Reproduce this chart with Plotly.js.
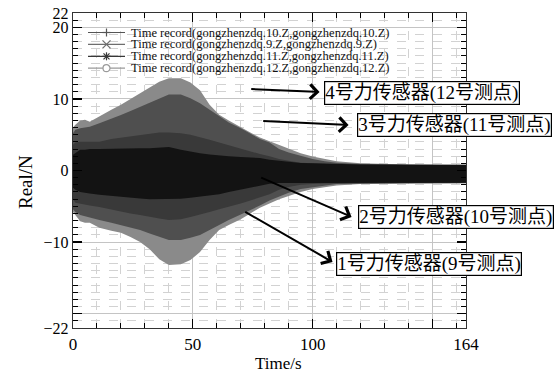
<!DOCTYPE html>
<html><head><meta charset="utf-8">
<script src="https://cdn.plot.ly/plotly-3.0.1.min.js"></script>
<style>html,body{margin:0;padding:0;background:#fff;}#chart{width:557px;height:374px;}</style>
</head><body><div id="chart"></div>
<script>
// Envelope of each time record (upper / lower amplitude, N)
const time = [0, 1, 3, 5, 7, 11, 16, 20, 24, 28, 32, 36, 40, 45, 49, 53, 57, 61, 65, 70, 74, 78, 82, 86, 90, 95, 100, 105, 110, 120, 140, 164];

const s12Upper = [6.0, 6.4, 7.0, 7.1, 6.8, 7.6, 8.5, 9.2, 10.0, 10.8, 11.6, 12.4, 12.9, 12.9, 12.3, 11.2, 9.2, 7.8, 7.0, 6.0, 5.3, 4.6, 4.1, 3.6, 3.1, 2.4, 1.95, 1.6, 1.3, 1.0, 0.85, 0.8];
const s12Lower = [-5.8, -6.2, -7.1, -7.3, -7.3, -8.0, -8.4, -8.7, -9.3, -10.0, -11.0, -12.4, -13.2, -13.1, -12.5, -11.4, -9.7, -8.3, -7.6, -6.8, -6.0, -5.2, -4.6, -4.0, -3.5, -3.0, -2.6, -2.3, -2.1, -1.9, -1.8, -1.8];

const s11Upper = [5.2, 5.7, 5.9, 6.0, 6.1, 6.6, 7.2, 7.75, 8.3, 8.9, 9.5, 10.1, 10.6, 10.6, 10.1, 9.4, 8.5, 7.5, 6.7, 5.9, 5.2, 4.4, 3.9, 3.0, 2.5, 2.0, 1.6, 1.3, 1.1, 0.9, 0.8, 0.75];
const s11Lower = [-5.4, -5.8, -6.2, -6.4, -6.5, -6.9, -7.3, -7.6, -8.0, -8.3, -8.8, -9.3, -9.7, -9.7, -9.4, -9.0, -8.3, -7.6, -6.9, -6.1, -5.5, -4.9, -4.2, -3.6, -3.1, -2.6, -2.3, -2.1, -1.9, -1.8, -1.75, -1.75];

const s10Upper = [3.6, 3.9, 4.0, 4.0, 4.0, 4.0, 4.4, 4.6, 4.8, 5.0, 5.2, 5.3, 5.3, 5.2, 5.0, 4.7, 4.3, 3.9, 3.5, 3.0, 2.6, 2.3, 2.0, 1.6, 1.35, 1.1, 1.0, 0.9, 0.85, 0.8, 0.8, 0.75];
const s10Lower = [-4.0, -4.5, -4.7, -4.8, -4.9, -5.1, -5.5, -5.7, -6.0, -6.2, -6.4, -6.7, -6.9, -6.8, -6.5, -6.2, -5.8, -5.4, -5.0, -4.6, -4.2, -3.8, -3.3, -2.7, -2.3, -2.0, -1.9, -1.8, -1.75, -1.75, -1.7, -1.7];

const s9Upper = [2.2, 2.4, 2.9, 2.9, 3.0, 3.0, 3.05, 3.1, 3.1, 3.1, 3.1, 3.25, 3.3, 2.9, 2.6, 2.4, 2.25, 2.1, 2.0, 1.9, 1.8, 1.75, 1.5, 1.35, 1.2, 1.05, 1.0, 0.95, 0.9, 0.85, 0.8, 0.8];
const s9Lower = [-2.4, -2.7, -3.0, -3.1, -3.2, -3.4, -3.55, -3.7, -3.8, -3.9, -4.0, -4.0, -4.0, -3.95, -3.8, -3.7, -3.5, -3.3, -3.0, -2.7, -2.4, -2.1, -1.85, -1.75, -1.7, -1.7, -1.7, -1.7, -1.7, -1.7, -1.7, -1.7];

const legendLabels = [
  'Time record(gongzhenzdq.10.Z,gongzhenzdq.10.Z)',
  'Time record(gongzhenzdq.9.Z,gongzhenzdq.9.Z)',
  'Time record(gongzhenzdq.11.Z,gongzhenzdq.11.Z)',
  'Time record(gongzhenzdq.12.Z,gongzhenzdq.12.Z)'
];
const legendColors = ['#555555', '#6e6e6e', '#383838', '#9a9a9a'];
const legendSymbols = ['plus', 'x', 'asterisk', 'circle'];

const sensorLabels = ['4号力传感器(12号测点)', '3号力传感器(11号测点)', '2号力传感器(10号测点)', '1号力传感器(9号测点)'];
const sensorLabelPos = [[145.8, 10.8], [159, 6.35], [159.8, -6.5], [148.75, -13.06]];
const arrowTail = [[73.75, 11.38], [78.75, 6.91], [77.9, -0.91], [71.25, -5.66]];
const arrowHead = [[102.9, 10.96], [115, 6.35], [116.25, -6.49], [108.3, -12.78]];

const xTickVals = [0, 50, 100, 150, 164];
const xTickText = ['0', '50', '100', '', '164'];
const yTickVals = [-22, -20, -10, 0, 10, 20, 22];
const yTickText = ['\u221222', '', '\u221210', '0', '10', '20', '22'];

const serif = 'Liberation Serif, Times New Roman, serif';
const cjk = 'Liberation Serif, Noto Sans CJK SC, serif';

// plot area in pixels
const L = 73, R = 466, T = 13, B = 328;
const px = (x) => (x - L) / (R - L);
const py = (y) => (B - y) / (B - T);

function band(upper, lower, color, name) {
  return {
    type: 'scatter', mode: 'lines', name: name, showlegend: false, hoverinfo: 'skip',
    x: time.concat(time.slice().reverse()),
    y: upper.concat(lower.slice().reverse()),
    fill: 'toself', fillcolor: color, line: {width: 0, color: color}
  };
}

const traces = [
  band(s12Upper, s12Lower, '#8a8a8a', '12'),
  band(s11Upper, s11Lower, '#4f4f4f', '11'),
  band(s10Upper, s10Lower, '#393939', '10'),
  band(s9Upper, s9Lower, '#131313', '9')
];

// legend drawn by hand (Plotly legend rows cannot be this tight)
const shapes = [];
const annotations = [];
shapes.push({type: 'rect', xref: 'paper', yref: 'paper', x0: px(84), x1: px(410), y0: py(26), y1: py(75),
  fillcolor: '#ffffff', line: {width: 0}, layer: 'below'});
const rowY0 = 32.5, rowStep = 11.9, sx0 = 88, sx1 = 125, mx = 106.5;
function seg(x0, y0, x1, y1, color) {
  shapes.push({type: 'line', xref: 'paper', yref: 'paper', x0: px(x0), y0: py(y0), x1: px(x1), y1: py(y1),
    line: {color: color, width: 1.2}});
}
legendLabels.forEach((lab, i) => {
  const cy = rowY0 + i * rowStep, c = legendColors[i], s = legendSymbols[i], r = 4;
  seg(sx0, cy, sx1, cy, c);
  if (s === 'plus' || s === 'asterisk') { seg(mx, cy - r, mx, cy + r, c); seg(mx - r, cy, mx + r, cy, c); }
  if (s === 'x' || s === 'asterisk') { const q = s === 'x' ? r : 3; seg(mx - q, cy - q, mx + q, cy + q, c); seg(mx - q, cy + q, mx + q, cy - q, c); }
  if (s === 'circle') {
    shapes.push({type: 'circle', xref: 'paper', yref: 'paper', x0: px(mx - 3.5), x1: px(mx + 3.5), y0: py(cy + 3.5), y1: py(cy - 3.5),
      fillcolor: '#ffffff', line: {color: c, width: 1.2}});
  }
  annotations.push({xref: 'paper', yref: 'paper', x: px(129), y: py(cy), xanchor: 'left', yanchor: 'middle',
    text: lab, showarrow: false, font: {family: serif, size: 12.5, color: '#111'}});
});

sensorLabels.forEach((lab, i) => {
  annotations.push({xref: 'x', yref: 'y', x: sensorLabelPos[i][0], y: sensorLabelPos[i][1],
    xanchor: 'center', yanchor: 'middle', text: lab, showarrow: false,
    font: {family: cjk, size: 19, color: '#000'}, bgcolor: '#ffffff', bordercolor: '#000', borderwidth: 1.2, borderpad: 0});
  annotations.push({xref: 'x', yref: 'y', axref: 'x', ayref: 'y',
    x: arrowHead[i][0], y: arrowHead[i][1], ax: arrowTail[i][0], ay: arrowTail[i][1],
    text: '', showarrow: true, arrowhead: 4, arrowsize: 1.4, arrowwidth: 2, arrowcolor: '#000', standoff: 0});
});

annotations.push({xref: 'paper', yref: 'paper', x: px(25), y: py(182), xanchor: 'center', yanchor: 'middle',
  text: 'Real/N', textangle: -90, showarrow: false, font: {family: serif, size: 19, color: '#000'}});
annotations.push({xref: 'paper', yref: 'paper', x: px(278), y: py(363), xanchor: 'center', yanchor: 'middle',
  text: 'Time/s', showarrow: false, font: {family: serif, size: 17, color: '#000'}});

const gridCol = '#c4c4c4';
const layout = {
  width: 557, height: 374,
  margin: {l: L, r: 557 - R, t: T, b: 374 - B, pad: 0},
  paper_bgcolor: '#ffffff', plot_bgcolor: '#ffffff',
  showlegend: false,
  font: {family: serif, size: 17, color: '#000'},
  xaxis: {
    range: [0, 164], tickmode: 'array', tickvals: xTickVals, ticktext: xTickText,
    ticks: 'inside', ticklen: 9, tickwidth: 1.2, tickcolor: '#000',
    showline: true, linecolor: '#333', linewidth: 1.2, mirror: 'ticks',
    showgrid: true, gridcolor: gridCol, gridwidth: 1, zeroline: false,
    tickfont: {family: serif, size: 17},
    minor: {tickmode: 'linear', tick0: 0, dtick: 10, ticks: 'inside', ticklen: 5, tickcolor: '#000', tickwidth: 1,
      showgrid: true, gridcolor: '#d2d2d2', griddash: 'dash', gridwidth: 1}
  },
  yaxis: {
    range: [-22, 22], tickmode: 'array', tickvals: yTickVals, ticktext: yTickText,
    ticks: 'inside', ticklen: 9, tickwidth: 1.2, tickcolor: '#000',
    showline: true, linecolor: '#333', linewidth: 1.2, mirror: 'ticks',
    showgrid: true, gridcolor: gridCol, gridwidth: 1, zeroline: false,
    tickfont: {family: serif, size: 16},
    minor: {tickmode: 'linear', tick0: 0, dtick: 1, ticks: 'inside', ticklen: 5, tickcolor: '#000', tickwidth: 1,
      showgrid: true, gridcolor: '#d2d2d2', griddash: 'dash', gridwidth: 1}
  },
  shapes: shapes,
  annotations: annotations
};

Plotly.newPlot('chart', traces, layout, {staticPlot: true, displayModeBar: false});
</script>
</body></html>
